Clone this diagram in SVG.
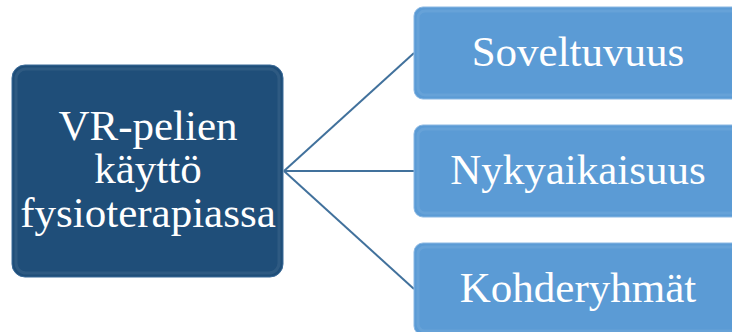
<svg xmlns="http://www.w3.org/2000/svg" width="732" height="332" viewBox="0 0 732 332">
<style>
.t{font-family:"Liberation Serif","Times New Roman",serif;font-size:43px;fill:#ffffff;text-anchor:middle}
.c{stroke:#41719c;stroke-width:2;fill:none}
.main{fill:#1f4e79;stroke:#3a6a98;stroke-width:1}
.sub{fill:#5b9bd5;stroke:#8bb8e3;stroke-width:1}
.hl{fill:none;stroke:#ffffff;stroke-opacity:0.07;stroke-width:3}
</style>
<rect width="732" height="332" fill="#ffffff"/>
<g id="connectors">
<path class="c" d="M284 171 L414 53"/>
<path class="c" d="M284 171 L414 171"/>
<path class="c" d="M284 171 L414 289"/>
</g>
<g id="node-main">
<rect class="main" x="12" y="65" width="271" height="212" rx="13"/>
<rect class="hl" x="16" y="69" width="263" height="204" rx="10"/>
<text class="t" x="148" y="140">VR-pelien</text>
<text class="t" x="148" y="183">käyttö</text>
<text class="t" x="148" y="227">fysioterapiassa</text>
</g>
<g id="node-soveltuvuus">
<rect class="sub" x="414" y="7" width="330" height="92" rx="9"/>
<rect class="hl" x="418" y="11" width="322" height="84" rx="7"/>
<text class="t" x="578" y="66">Soveltuvuus</text>
</g>
<g id="node-nykyaikaisuus">
<rect class="sub" x="414" y="125" width="330" height="92" rx="9"/>
<rect class="hl" x="418" y="129" width="322" height="84" rx="7"/>
<text class="t" x="578" y="184">Nykyaikaisuus</text>
</g>
<g id="node-kohderyhmat">
<rect class="sub" x="414" y="243" width="330" height="92" rx="9"/>
<rect class="hl" x="418" y="247" width="322" height="84" rx="7"/>
<text class="t" x="578" y="302">Kohderyhmät</text>
</g>
</svg>
